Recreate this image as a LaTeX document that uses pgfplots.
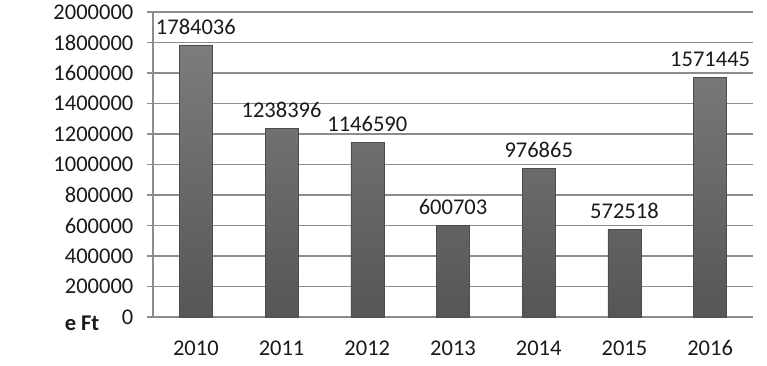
\documentclass[border=0pt]{standalone}
\usepackage{pgfplots}
\pgfplotsset{compat=1.18}
\usepackage{fontspec}
\setmainfont{Carlito}
\definecolor{txt}{HTML}{1A1A1A}
\definecolor{grid}{HTML}{8C8C8C}
\definecolor{bartop}{HTML}{7C7C7C}
\definecolor{barbot}{HTML}{565656}
\newcommand{\fs}{\fontsize{22.5pt}{26pt}\selectfont}
\begin{document}
\fs
\begin{tikzpicture}
\begin{axis}[
  name=ax,
  scale only axis,
  width=600pt, height=305pt,
  ybar, bar width=33pt,
  xmin=-0.5, xmax=6.5,
  ymin=0, ymax=2000000,
  xtick={0,1,2,3,4,5,6},
  xticklabels={2010,2011,2012,2013,2014,2015,2016},
  ytick={0,200000,...,2000000},
  scaled y ticks=false,
  /pgf/number format/.cd, fixed, 1000 sep={}, assume math mode=true, /pgfplots/.cd,
  axis x line=bottom, axis y line=left,
  axis line style={draw=grid, line width=1.2pt, -},
  ymajorgrids,
  major grid style={draw=grid, line width=1.2pt},
  tick align=outside,
  major tick length=6pt,
  xtick style={draw=none},
  ytick style={draw=grid, line width=1.2pt},
  ticklabel style={font=\fs, text=txt},
  yticklabel style={xshift=-6pt},
  xticklabel style={yshift=-10pt},
  nodes near coords,
  every node near coord/.append style={font=\fs, text=txt, yshift=3pt},
  clip=false,
]
\addplot[draw=barbot!90!black, line width=0.4pt, top color=bartop, bottom color=barbot] coordinates {
  (0,1784036) (1,1238396) (2,1146590) (3,600703) (4,976865) (5,572518) (6,1571445)
};
\node[font=\bfseries\fs, text=txt, anchor=east] at (rel axis cs:0,0) [xshift=-46pt, yshift=-6pt] {e Ft};
\end{axis}
\pgfresetboundingbox
\path[use as bounding box] (ax.south west) ++(-153pt,-49pt) rectangle ++(767pt,366pt);
\end{tikzpicture}
\end{document}
